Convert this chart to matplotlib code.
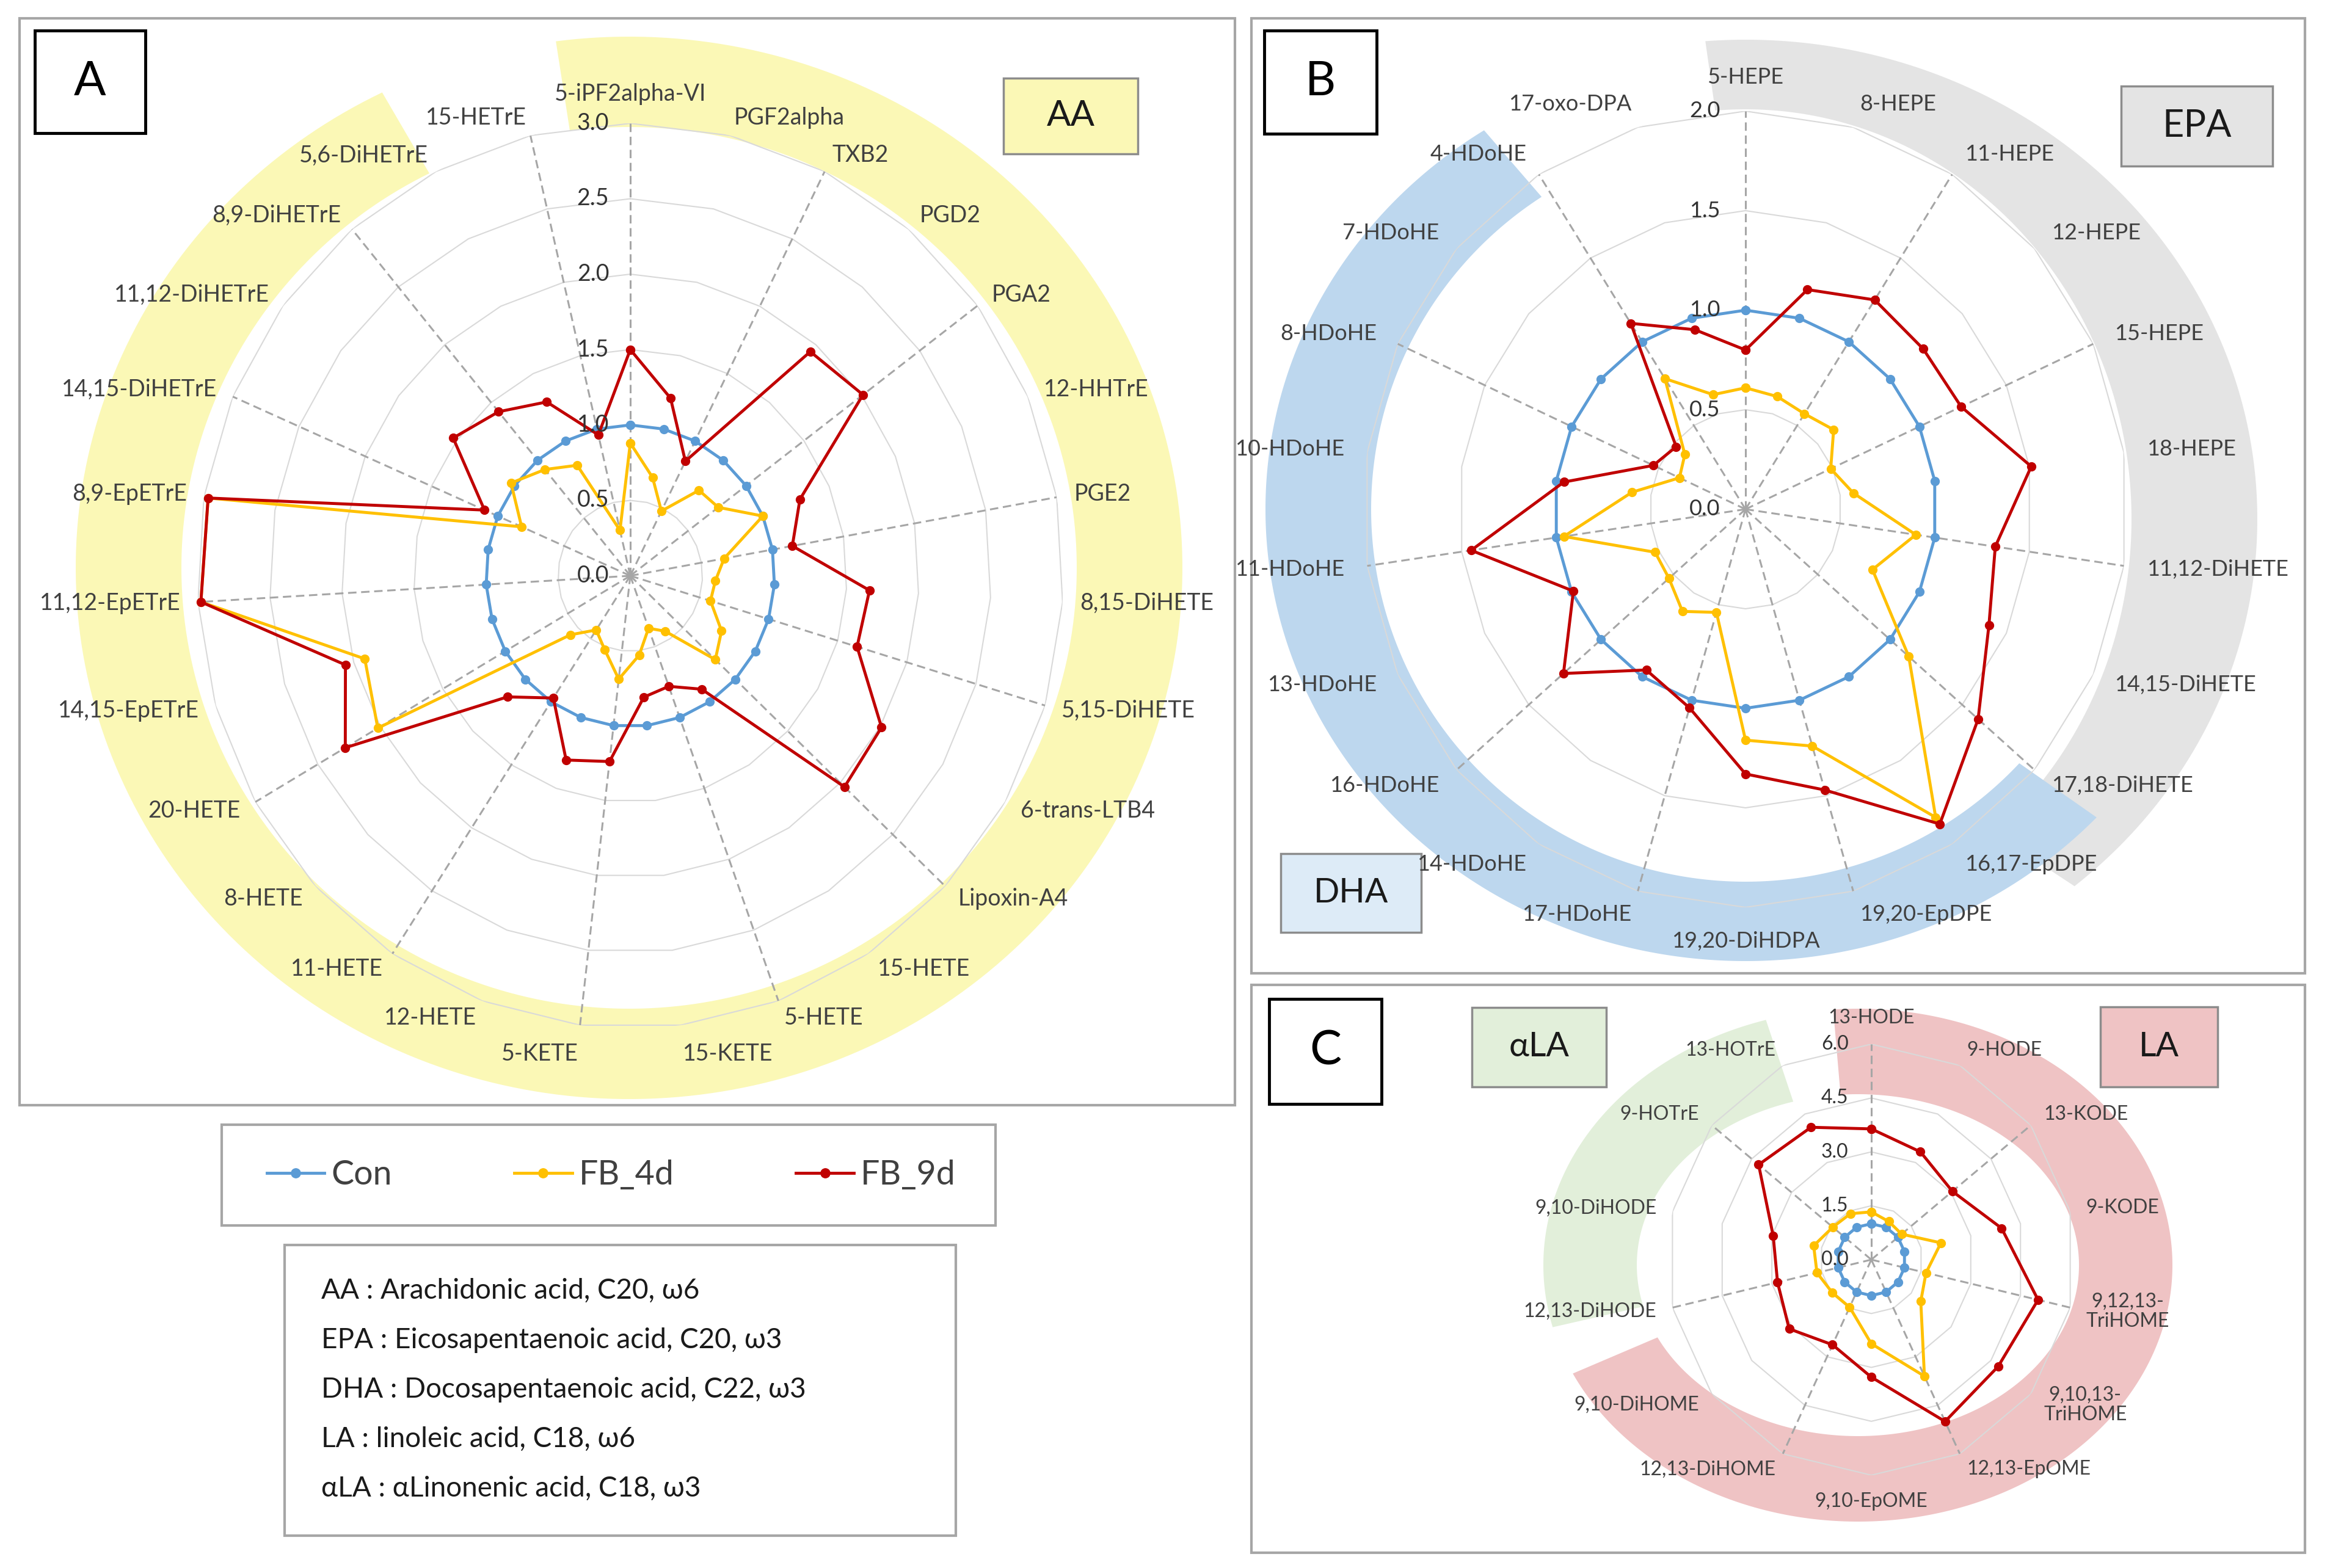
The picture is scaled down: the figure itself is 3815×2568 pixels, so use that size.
import numpy as np
import matplotlib.pyplot as plt
from matplotlib.lines import Line2D
from matplotlib.patches import Polygon, Rectangle

plt.rcParams['font.family'] = ['Lato', 'DejaVu Sans']

W, H = 3815, 2568
series_names = ['Con', 'FB_4d', 'FB_9d']
series_colors = ['#5B9BD5', '#FFC000', '#C00000']

# panel A : arachidonic acid metabolites
aa_labels = ['5-iPF2alpha-VI', 'PGF2alpha', 'TXB2', 'PGD2', 'PGA2', '12-HHTrE', 'PGE2',
             '8,15-DiHETE', '5,15-DiHETE', '6-trans-LTB4', 'Lipoxin-A4', '15-HETE', '5-HETE',
             '15-KETE', '5-KETE', '12-HETE', '11-HETE', '8-HETE', '20-HETE', '14,15-EpETrE',
             '11,12-EpETrE', '8,9-EpETrE', '14,15-DiHETrE', '11,12-DiHETrE', '8,9-DiHETrE',
             '5,6-DiHETrE', '15-HETrE']
aa_con = [1.0, 1.0, 1.0, 1.0, 1.0, 1.0, 1.0, 1.0, 1.0, 1.0, 1.0, 1.0, 1.0, 1.0,
          1.0, 1.0, 1.0, 1.0, 1.0, 1.0, 1.0, 1.0, 1.0, 1.0, 1.0, 1.0, 1.0]
aa_fb4 = [0.88, 0.67, 0.48, 0.74, 0.76, 1.00, 0.66, 0.59, 0.58, 0.73, 0.81, 0.44, 0.37, 0.53,
          0.69, 0.52, 0.43, 0.57, 2.02, 1.92, 2.98, 2.97, 0.82, 1.03, 0.92, 0.82, 0.31]
aa_fb9 = [1.50, 1.21, 0.85, 1.94, 2.01, 1.28, 1.14, 1.66, 1.64, 2.01, 2.04, 0.90, 0.78, 0.81,
          1.24, 1.30, 0.97, 1.17, 2.28, 2.06, 2.98, 2.97, 1.10, 1.53, 1.42, 1.29, 0.96]
aa_ticks = [0.0, 0.5, 1.0, 1.5, 2.0, 2.5, 3.0]

# panel B : EPA / DHA metabolites
bd_labels = ['5-HEPE', '8-HEPE', '11-HEPE', '12-HEPE', '15-HEPE', '18-HEPE', '11,12-DiHETE',
             '14,15-DiHETE', '17,18-DiHETE', '16,17-EpDPE', '19,20-EpDPE', '19,20-DiHDPA',
             '17-HDoHE', '14-HDoHE', '16-HDoHE', '13-HDoHE', '11-HDoHE', '10-HDoHE',
             '8-HDoHE', '7-HDoHE', '4-HDoHE', '17-oxo-DPA']
bd_con = [1.0, 1.0, 1.0, 1.0, 1.0, 1.0, 1.0, 1.0, 1.0, 1.0, 1.0,
          1.0, 1.0, 1.0, 1.0, 1.0, 1.0, 1.0, 1.0, 1.0, 1.0, 1.0]
bd_fb4 = [0.61, 0.59, 0.57, 0.61, 0.49, 0.57, 0.90, 0.73, 1.13, 1.84, 1.24,
          1.16, 0.54, 0.61, 0.53, 0.52, 0.96, 0.60, 0.38, 0.42, 0.78, 0.60]
bd_fb9 = [0.80, 1.15, 1.25, 1.23, 1.24, 1.51, 1.32, 1.40, 1.61, 1.88, 1.47,
          1.33, 1.04, 0.96, 1.26, 0.99, 1.45, 0.96, 0.53, 0.48, 1.11, 0.94]
bd_ticks = [0.0, 0.5, 1.0, 1.5, 2.0]

# panel C : LA / alpha-LA metabolites
la_labels = ['13-HODE', '9-HODE', '13-KODE', '9-KODE', '9,12,13-\nTriHOME', '9,10,13-\nTriHOME',
             '12,13-EpOME', '9,10-EpOME', '12,13-DiHOME', '9,10-DiHOME', '12,13-DiHODE',
             '9,10-DiHODE', '9-HOTrE', '13-HOTrE']
la_con = [1.0, 1.0, 1.0, 1.0, 1.0, 1.0, 1.0, 1.0, 1.0, 1.0, 1.0, 1.0, 1.0, 1.0]
la_fb4 = [1.33, 1.18, 1.14, 2.10, 1.65, 1.86, 3.60, 2.34, 1.47, 1.47, 1.64, 1.74, 1.45, 1.42]
la_fb9 = [3.64, 3.33, 3.05, 3.93, 5.03, 4.77, 5.00, 3.27, 2.63, 3.09, 2.83, 2.96, 4.24, 4.09]
la_ticks = [0.0, 1.5, 3.0, 4.5, 6.0]

notes = ['AA : Arachidonic acid, C20, ω6',
         'EPA : Eicosapentaenoic acid, C20, ω3',
         'DHA : Docosapentaenoic acid, C22, ω3',
         'LA : linoleic acid, C18, ω6',
         'αLA : αLinonenic acid, C18, ω3']

fig = plt.figure(figsize=(W / 100, H / 100), dpi=100)

# background layer in pixel units (y down) for frames, bands and tag boxes
bg = fig.add_axes([0, 0, 1, 1], zorder=0)
bg.set_xlim(0, W)
bg.set_ylim(H, 0)
bg.axis('off')


def band(cx, cy, rxi, ryi, rxo, ryo, a0, a1, color):
    t = np.radians(np.linspace(a0, a1, 300))
    outer = np.column_stack([cx + rxo * np.sin(t), cy - ryo * np.cos(t)])
    inner = np.column_stack([cx + rxi * np.sin(t[::-1]), cy - ryi * np.cos(t[::-1])])
    bg.add_patch(Polygon(np.vstack([outer, inner]), closed=True, fc=color, ec='none'))


def box(x0, y0, x1, y1, text='', fc='white', ec='#8C8C8C', lw=2.5, fs=40, color='#1A1A1A'):
    bg.add_patch(Rectangle((x0, y0), x1 - x0, y1 - y0, fc=fc, ec=ec, lw=lw))
    if text:
        bg.text((x0 + x1) / 2, (y0 + y1) / 2, text, ha='center', va='center',
                fontsize=fs, color=color)


# panel frames
box(32, 30, 2022, 1810, ec='#A6A6A6', lw=3)
box(2049, 30, 3774, 1594, ec='#A6A6A6', lw=3)
box(2049, 1613, 3774, 2543, ec='#A6A6A6', lw=3)

# coloured bands behind the radars
band(1030, 930, 733, 722, 906, 870, -7.6, 333.5, '#FBF8B6')
band(2858, 850, 632, 671, 838, 785, -4.5, 140, '#E4E4E4')
band(2858, 834, 613, 610, 786, 740, 133, 327, '#BDD7EE')
band(3042, 2072, 362, 280, 515, 420, -4.5, 245, '#EFC3C4')
band(3042, 2072, 362, 280, 515, 420, 256, 343, '#E2EFDA')

# panel letters and family tags
box(57, 50, 238, 218, 'A', ec='black', lw=3.5, fs=56, color='black')
box(2070, 50, 2254, 219, 'B', ec='black', lw=3.5, fs=56, color='black')
box(2078, 1636, 2262, 1808, 'C', ec='black', lw=3.5, fs=56, color='black')
box(1643, 128, 1863, 252, 'AA', fc='#FBF8B6', fs=42)
box(3473, 141, 3721, 272, 'EPA', fc='#E4E4E4', fs=44)
box(2097, 1398, 2327, 1527, 'DHA', fc='#DDEBF7', fs=40)
box(2410, 1650, 2630, 1780, 'αLA', fc='#E2EFDA', fs=40)
box(3439, 1649, 3631, 1780, 'LA', fc='#EFC3C4', fs=40)


def radar(cx, cy, rx, ry, labels, series, ticks, fs, lab_fac, tick_off):
    ax = fig.add_axes([(cx - rx) / W, 1 - (cy + ry) / H, 2 * rx / W, 2 * ry / H],
                      projection='polar', zorder=2)
    ax.set_aspect('auto')
    ax.set_theta_zero_location('N')
    ax.set_theta_direction(-1)
    rmax = ticks[-1]
    ax.set_ylim(0, rmax)
    ax.set_xticks([])
    ax.set_yticks([])
    ax.grid(False)
    ax.spines['polar'].set_visible(False)
    ax.patch.set_visible(False)

    n = len(labels)
    th = np.linspace(0, 2 * np.pi, n, endpoint=False)
    thc = np.append(th, th[0])
    for v in ticks[1:]:
        ax.plot(thc, [v] * (n + 1), color='#D9D9D9', lw=1.5, zorder=1)
    for t in th[::2]:
        ax.plot([t, t], [0, rmax], color='#A6A6A6', lw=2.2, ls=(0, (4.5, 2.5)), zorder=1.5)
    for vals, col in zip(series, series_colors):
        ax.plot(thc, np.append(vals, vals[0]), color=col, lw=3.5, marker='o', ms=10,
                zorder=3, clip_on=False)
    for v in ticks:
        ax.annotate(f'{v:.1f}', (0, v), xytext=(-tick_off, 0), textcoords='offset points',
                    ha='right', va='center', fontsize=fs, color='#333333', zorder=4)
    for t, lab in zip(th, labels):
        s, c = np.sin(t), np.cos(t)
        ha = 'center' if abs(s) < 0.03 else ('left' if s > 0 else 'right')
        va = 'center' if abs(c) < 0.98 else ('bottom' if c > 0 else 'top')
        ax.text(t, rmax * lab_fac, lab, ha=ha, va=va, fontsize=fs, color='#404040',
                multialignment='center', linespacing=1.1)
    return ax


radar(1032, 943, 709, 741, aa_labels, [aa_con, aa_fb4, aa_fb9], aa_ticks, 27, 1.04, 25)
radar(2858, 834, 626, 652, bd_labels, [bd_con, bd_fb4, bd_fb9], bd_ticks, 26, 1.06, 30)
radar(3064, 2063, 334, 353, la_labels, [la_con, la_fb4, la_fb9], la_ticks, 23, 1.08, 27)

# legend
box(363, 1842, 1630, 2007, ec='#A6A6A6', lw=3)
handles = [Line2D([], [], color=c, lw=3.5, marker='o', ms=11) for c in series_colors]
fig.legend(handles, series_names, loc='center left', bbox_to_anchor=(437 / W, 1 - 1925 / H),
           ncol=3, frameon=False, fontsize=40, handlelength=1.7, handletextpad=0.2,
           columnspacing=3.6, borderpad=0, borderaxespad=0, labelcolor='#404040')

# abbreviations box
box(466, 2039, 1565, 2515, ec='#A6A6A6', lw=3)
for i, line in enumerate(notes):
    bg.text(526, 2114 + i * 81, line, ha='left', va='center', fontsize=33, color='#1A1A1A')

fig.savefig('out.png', dpi=100)
